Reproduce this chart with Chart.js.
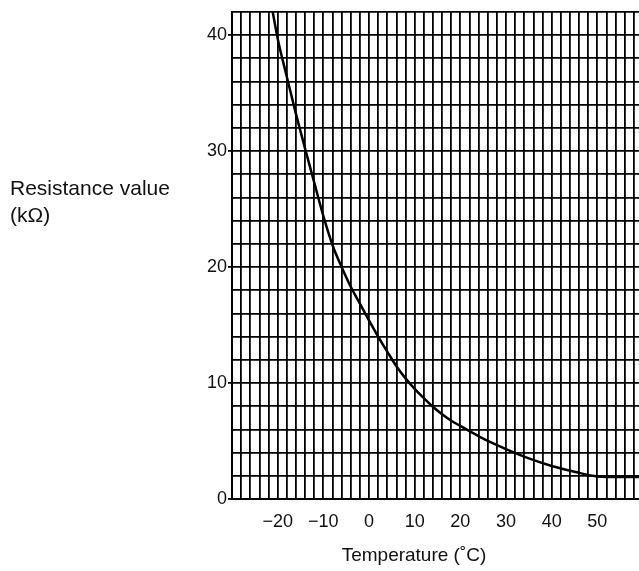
<!DOCTYPE html>
<html>
<head>
<meta charset="utf-8">
<script src="https://cdn.jsdelivr.net/npm/chart.js@4/dist/chart.umd.min.js"></script>
<style>
  html, body { margin: 0; padding: 0; background: #fff; overflow: hidden; }
  #wrap { position: relative; width: 639px; height: 571px; overflow: hidden; }
  #box { position: absolute; left: 0; top: 0; width: 655px; height: 571px; }
  .ylab { position: absolute; left: 10px; top: 174px; font-family: 'Liberation Sans', Arial, sans-serif;
          font-size: 21px; line-height: 27px; color: #111; }
  .xlab { position: absolute; left: 314px; width: 200px; top: 543px; text-align: center;
          font-family: 'Liberation Sans', Arial, sans-serif; font-size: 19px; line-height: 24px; color: #111; }
</style>
</head>
<body>
<div id="wrap">
  <div id="box"><canvas id="chart"></canvas></div>
  <div class="ylab">Resistance value<br>(kΩ)</div>
  <div class="xlab">Temperature (&#x2DA;C)</div>
</div>
<script>
// Curva de resistência
const temperatures = [-21.5, -20, -18, -16, -14, -12, -10, -8, -6, -4, -2, 0, 2, 4, 6, 8, 10, 12, 14, 16, 18, 20, 22, 25, 30, 35, 40, 45, 50, 55, 60];
const resistances = [42.9, 39.7, 36.4, 33.2, 30.2, 27.3, 24.4, 21.9, 20.0, 18.3, 16.85, 15.4, 14.0, 12.7, 11.45, 10.4, 9.5, 8.7, 7.95, 7.3, 6.75, 6.3, 5.85, 5.2, 4.3, 3.5, 2.85, 2.35, 1.95, 1.9, 1.9];
const xTickLabels = [-20, -10, 0, 10, 20, 30, 40, 50];
const yTickLabels = [0, 10, 20, 30, 40];

const points = temperatures.map((t, i) => ({ x: t, y: resistances[i] }));

function fmt(v) {
    return v < 0 ? '\u2212' + Math.abs(v) : String(v);
}

new Chart(document.getElementById('chart'), {
    type: 'line',
    data: {
        datasets: [{
            data: points,
            borderColor: '#000',
            borderWidth: 2.5,
            pointRadius: 0,
            cubicInterpolationMode: 'monotone',
            fill: false
        }]
    },
    options: {
        responsive: true,
        maintainAspectRatio: false,
        animation: false,
        layout: { padding: { left: 0, right: 0, top: 11, bottom: 0 } },
        plugins: { legend: { display: false }, tooltip: { enabled: false } },
        scales: {
            x: {
                type: 'linear',
                min: -30,
                max: 60,
                afterFit: function(scale) { scale.height = 72; },
                ticks: {
                    stepSize: 2,
                    autoSkip: false,
                    maxRotation: 0,
                    padding: 12,
                    color: '#111',
                    font: { family: "'Liberation Sans Narrow', 'Liberation Sans', sans-serif", size: 18 },
                    callback: function(value) {
                        return xTickLabels.includes(value) ? fmt(value) : '';
                    }
                },
                grid: { color: '#000', lineWidth: 1.8, drawTicks: false },
                border: { color: '#000', width: 2 }
            },
            y: {
                min: 0,
                max: 42,
                afterFit: function(scale) { scale.width = 232; },
                ticks: {
                    stepSize: 2,
                    autoSkip: false,
                    padding: 1,
                    color: '#111',
                    font: { family: "'Liberation Sans Narrow', 'Liberation Sans', sans-serif", size: 18 },
                    callback: function(value) {
                        return yTickLabels.includes(value) ? String(value) : '';
                    }
                },
                grid: {
                    color: '#000',
                    lineWidth: 1.8,
                    tickLength: 4,
                    tickColor: function(ctx) {
                        return ctx.tick && ctx.tick.value % 10 === 0 ? '#000' : 'rgba(0,0,0,0)';
                    }
                },
                border: { color: '#000', width: 2 }
            }
        }
    }
});
</script>
</body>
</html>
